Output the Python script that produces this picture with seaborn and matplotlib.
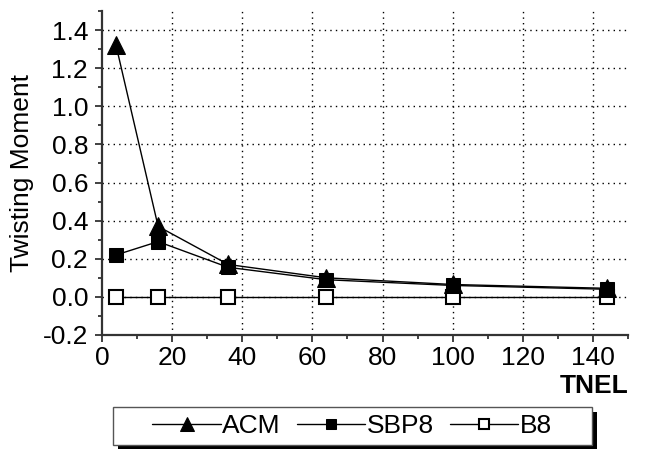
import matplotlib
matplotlib.use("Agg")
import matplotlib.pyplot as plt
import seaborn as sns
import pandas as pd
from matplotlib.ticker import MultipleLocator
from matplotlib.patches import Rectangle

tnel = [4, 16, 36, 64, 100, 144]
acm = [1.32, 0.37, 0.17, 0.10, 0.065, 0.045]
sbp8 = [0.22, 0.29, 0.155, 0.09, 0.06, 0.04]
b8 = [0.0, 0.0, 0.0, 0.0, 0.0, 0.0]
yticks = [-0.2, 0.0, 0.2, 0.4, 0.6, 0.8, 1.0, 1.2, 1.4]
ytick_labels = ["-0.2", "0.0", "0.2", "0.4", "0.6", "0.8", "1.0", "1.2", "1.4"]

sns.set_style("ticks")
plt.rcParams['font.family'] = ['Liberation Sans', 'DejaVu Sans']
plt.rcParams['text.color'] = 'black'
plt.rcParams['axes.labelcolor'] = 'black'
plt.rcParams['xtick.color'] = 'black'
plt.rcParams['ytick.color'] = 'black'
FS = 19

W, H = 648, 449
fig = plt.figure(figsize=(W/100, H/100), dpi=100)
ax = fig.add_axes([102/W, 1-335/H, (628-102)/W, (335-11)/H])

df = pd.DataFrame({"TNEL": tnel, "ACM": acm, "SBP8": sbp8, "B8": b8})

sns.lineplot(data=df, x="TNEL", y="B8", ax=ax, color="black", lw=1, marker="s",
             markersize=10, markerfacecolor="white", markeredgecolor="black",
             markeredgewidth=1.5, label="B8", zorder=3)
sns.lineplot(data=df, x="TNEL", y="SBP8", ax=ax, color="black", lw=1, marker="s",
             markersize=10, markerfacecolor="black", markeredgecolor="black",
             label="SBP8", zorder=4)
sns.lineplot(data=df, x="TNEL", y="ACM", ax=ax, color="black", lw=1, marker="^",
             markersize=12.5, markerfacecolor="black", markeredgecolor="black",
             label="ACM", zorder=5)

ax.set_xlim(0, 150)
ax.set_ylim(-0.2, 1.5)
ax.xaxis.set_major_locator(MultipleLocator(20))
ax.xaxis.set_minor_locator(MultipleLocator(10))
ax.set_yticks(yticks)
ax.set_yticklabels(ytick_labels)
ax.yaxis.set_minor_locator(MultipleLocator(0.1))
ax.tick_params(axis="both", which="major", direction="out", length=5, width=1.3,
               labelsize=FS, color="#333333", labelcolor="black", pad=3)
ax.tick_params(axis="y", which="major", pad=5)
ax.tick_params(axis="both", which="minor", direction="out", length=3, width=1.3,
               color="#333333")

for y in yticks[1:]:
    ax.axhline(y, color="black", lw=1, ls=(0, (1, 3)), zorder=1)
for x in [20, 40, 60, 80, 100, 120, 140]:
    ax.axvline(x, color="black", lw=1, ls=(0, (1, 3)), zorder=1)

for s in ["top", "right"]:
    ax.spines[s].set_visible(False)
for s in ["left", "bottom"]:
    ax.spines[s].set_linewidth(1.6)
    ax.spines[s].set_color("#333333")

ax.set_xlabel("")
ax.set_ylabel("Twisting Moment", fontsize=FS, labelpad=6, color="black")
fig.text(628/W, 1-386/H, "TNEL", ha="right", va="center", fontsize=FS,
         fontweight="bold", color="black")

# legend box with solid shadow
fig.patches.append(Rectangle((118/W, 1-449/H), (597-118)/W, (449-412)/H,
                             transform=fig.transFigure, facecolor="black",
                             edgecolor="none", zorder=0))
fig.patches.append(Rectangle((113/W, 1-445/H), (592-113)/W, (445-407)/H,
                             transform=fig.transFigure, facecolor="white",
                             edgecolor="#555555", lw=1, zorder=1))

handles, labels = ax.get_legend_handles_labels()
order = [labels.index(l) for l in ["ACM", "SBP8", "B8"]]
leg = fig.legend([handles[i] for i in order], [labels[i] for i in order],
                 loc="center", bbox_to_anchor=(352/W, 1-426/H), ncol=3,
                 frameon=False, fontsize=FS, handlelength=2.6, handletextpad=0.05,
                 columnspacing=0.6, borderpad=0.2, markerscale=0.75)
for t in leg.get_texts():
    t.set_color("black")
if ax.get_legend():
    ax.get_legend().remove()

fig.savefig("out.png", dpi=100)
